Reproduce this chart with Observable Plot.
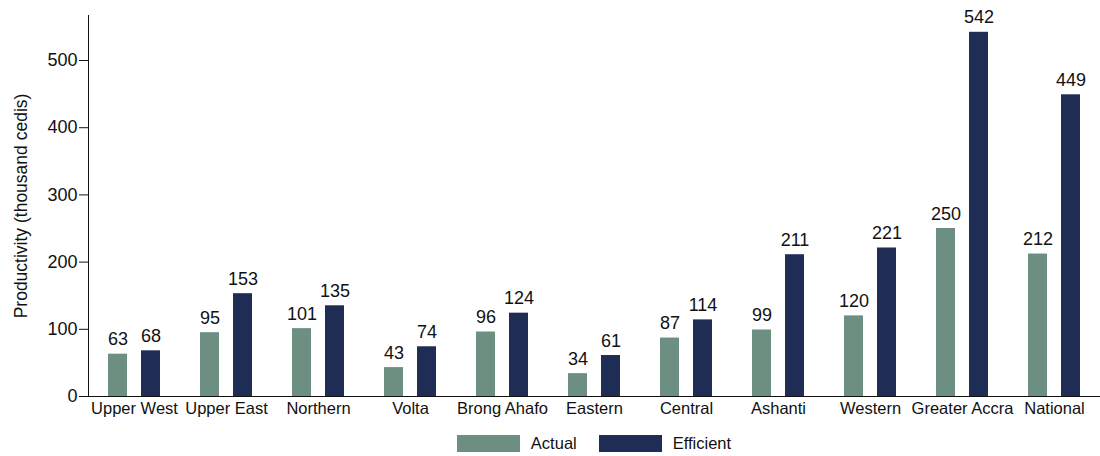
<!DOCTYPE html>
<html>
<head>
<meta charset="utf-8">
<script src="https://cdn.jsdelivr.net/npm/d3@7"></script>
<script src="https://cdn.jsdelivr.net/npm/@observablehq/plot@0.6"></script>
<style>
  html, body { margin: 0; padding: 0; background: #fff; }
  body { width: 1100px; height: 456px; overflow: hidden; font-family: "Liberation Sans", Arial, sans-serif; }
  #legend { display: flex; justify-content: center; align-items: center; height: 31px; padding-left: 88px; padding-top: 5px; box-sizing: border-box; font-size: 16.5px; color: #111; }
  .item { display: flex; align-items: center; margin: 0 11px; }
  .sw { width: 63px; height: 17px; margin-right: 11px; }
  g[aria-label="y-axis tick label"], g[aria-label="y-axis tick label"] text { font-size: 18px !important; }
  g[aria-label="y-axis label"], g[aria-label="y-axis label"] text { font-size: 17.5px !important; }
  g[aria-label="fx-axis tick label"], g[aria-label="fx-axis tick label"] text { font-size: 16.5px !important; }
</style>
</head>
<body>
<div id="chart"></div>
<div id="legend"></div>
<script>
const regions = ["Upper West", "Upper East", "Northern", "Volta", "Brong Ahafo", "Eastern", "Central", "Ashanti", "Western", "Greater Accra", "National"];
const actual = [63, 95, 101, 43, 96, 34, 87, 99, 120, 250, 212];
const efficient = [68, 153, 135, 74, 124, 61, 114, 211, 221, 542, 449];
const series = ["Actual", "Efficient"];
const colors = ["#6c8f82", "#1f2c54"];
const yTicks = [0, 100, 200, 300, 400, 500];

const data = [];
regions.forEach((r, i) => {
  data.push({region: r, series: "Actual", value: actual[i]});
  data.push({region: r, series: "Efficient", value: efficient[i]});
});

const chart = Plot.plot({
  width: 1100,
  height: 425,
  marginLeft: 88,
  marginRight: 0,
  marginTop: 15,
  marginBottom: 29,
  style: {fontFamily: "'Liberation Sans', Arial, sans-serif", fontSize: "17px", color: "#111"},
  fx: {domain: regions, padding: 0, label: null, tickSize: 0, tickPadding: 6},
  x: {domain: series, axis: null, paddingInner: 0.41, paddingOuter: 0.56},
  y: {domain: [0, 567], ticks: yTicks, tickSize: 9, tickPadding: 2, line: true,
      label: "Productivity (thousand cedis)", labelAnchor: "center", labelOffset: 74, labelArrow: "none"},
  color: {domain: series, range: colors},
  marks: [
    Plot.barY(data, {fx: "region", x: "series", y: "value", fill: "series"}),
    Plot.text(data, {fx: "region", x: "series", y: "value", text: d => String(d.value), dy: -9, lineAnchor: "bottom", fontSize: 18, fill: "#111"}),
    Plot.ruleY([0], {stroke: "#111", strokeWidth: 1.2})
  ]
});
document.getElementById("chart").appendChild(chart);

const legend = document.getElementById("legend");
series.forEach((s, i) => {
  const it = document.createElement("div");
  it.className = "item";
  it.innerHTML = `<span class="sw" style="background:${colors[i]}"></span><span>${s}</span>`;
  legend.appendChild(it);
});
</script>
</body>
</html>
